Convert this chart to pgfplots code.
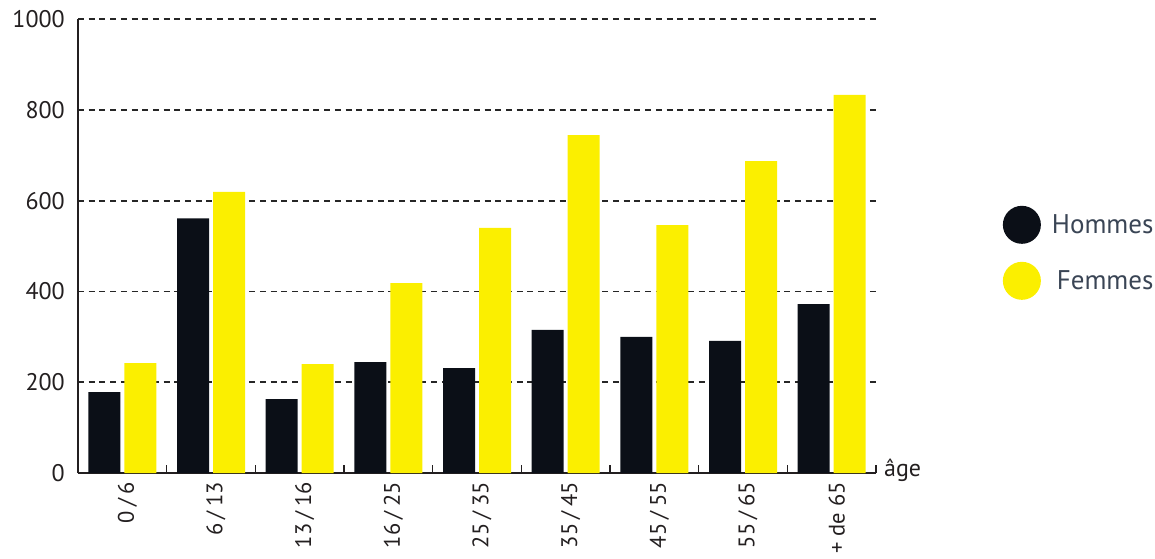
\documentclass[border=0pt]{standalone}
\usepackage{fontspec}
\setmainfont{PT Sans}
\usepackage{pgfplots}
\pgfplotsset{compat=1.18}
\definecolor{barblack}{HTML}{0B0F17}
\definecolor{baryellow}{HTML}{FBEF00}
\definecolor{txt}{HTML}{231F20}
\definecolor{legtxt}{HTML}{3A4555}
\newcommand{\slh}{\hspace{0.2em}/\hspace{0.2em}}
\begin{document}
\begin{tikzpicture}[x=1pt,y=1pt]
\path[use as bounding box] (0,0) rectangle (1155,558);
\begin{axis}[
  at={(78pt,85pt)}, anchor=south west,
  width=798pt, height=454pt, scale only axis,
  xmin=-0.5, xmax=8.5, ymin=0, ymax=1000,
  axis lines*=left,
  axis line style={line width=1.6pt, color=txt},
  ybar=4pt, bar width=32pt,
  ytick={0,200,...,1000},
  ymajorgrids,
  grid style={dash pattern=on 6pt off 4.7pt, line width=1.8pt, color=black!85},
  xtick={0,...,8},
  xticklabels={0\slh6, 6\slh13, 13\slh16, 16\slh25, 25\slh35, 35\slh45, 45\slh55, 55\slh65, + de 65},
  x tick label style={rotate=90, anchor=east, font=\fontsize{22.5}{26}\selectfont, text=txt, inner sep=0pt, yshift=-5pt},
  xticklabel shift=9pt,
  y tick label style={font=\fontsize{24}{28}\selectfont, text=txt, inner sep=0pt},
  yticklabel shift=13pt,
  /pgf/number format/assume math mode=true,
  /pgf/number format/1000 sep={},
  major tick length=0pt,
  minor xtick={-0.5,0.5,...,8.5},
  minor tick length=8pt,
  tick align=inside,
  minor tick style={line width=1.6pt, color=txt},
  clip=false,
  legend style={at={(1.159,0.485)}, anchor=west, draw=none, fill=none,
    inner sep=0pt, outer sep=0pt, row sep=18pt,
    font=\fontsize{27}{30}\selectfont, text=legtxt},
  legend cell align=left,
]
\addplot[fill=barblack, draw=none,
  legend image code/.code={\fill[barblack] (19pt,0pt) circle (19pt);}]
  coordinates {(0,178) (1,561) (2,163) (3,244) (4,231) (5,315) (6,300) (7,291) (8,372)};
\addlegendentry{\hspace{9pt}Hommes}
\addplot[fill=baryellow, draw=none,
  legend image code/.code={\fill[baryellow] (19pt,0pt) circle (19pt);}]
  coordinates {(0,242) (1,619) (2,240) (3,418) (4,540) (5,744) (6,546) (7,687) (8,833)};
\addlegendentry{\hspace{14pt}Femmes}
\node[anchor=base west, inner sep=0pt, font=\fontsize{24}{28}\selectfont, text=txt]
  at (rel axis cs:1,0) [xshift=8pt, yshift=-3pt] {âge};
\end{axis}
\end{tikzpicture}
\end{document}
